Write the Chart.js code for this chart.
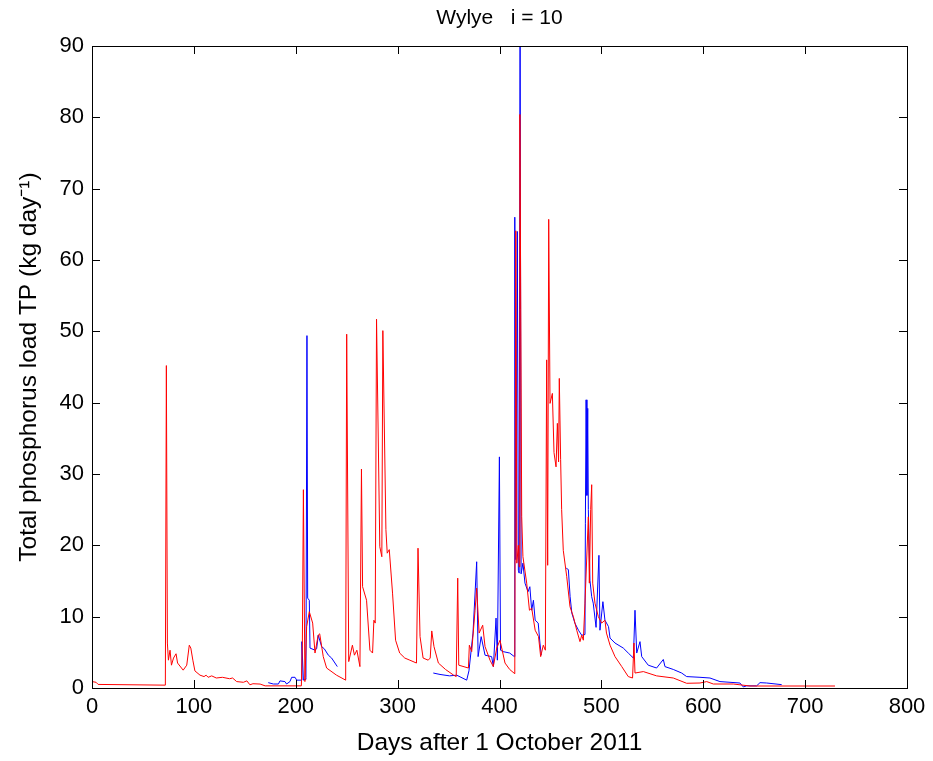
<!DOCTYPE html>
<html>
<head>
<meta charset="utf-8">
<script src="https://cdn.jsdelivr.net/npm/chart.js@4"></script>
<style>
  body { margin: 0; background: #fff; }
  canvas { display: block; }
</style>
</head>
<body>
<canvas id="tpChart" width="933" height="761"></canvas>
<script>
// modelled load (red), days after 1 Oct 2011
const redDays = [0, 4, 6, 72, 73, 74, 75, 76.6, 78, 80, 82.5, 84, 89.5, 93, 95.5, 97, 99, 101, 106, 110,
  112, 114, 117.5, 122, 128, 135, 138, 142, 148.6, 152, 155, 158, 165, 170, 205.5, 206.5, 207.5, 209, 210.7, 213.3,
  216.6, 218.9, 222, 223.5, 227, 230.3, 240, 249, 250, 252, 255.6, 257.6, 260, 263, 264.5, 265.6, 269.5, 272.8, 275.4, 276.7,
  278, 279.3, 282.5, 284.5, 285.5, 288.5, 289.8, 291.8, 295, 298, 302, 307, 312, 318.5, 320, 322, 325, 330, 332, 333.5,
  335.7, 340, 347, 355, 357.5, 359, 360, 369.5, 370.4, 372.7, 376, 377.6, 380, 383.5, 385.8, 390.7, 393.9, 397.3, 400.5, 405.4,
  410, 415, 416, 417, 418.5, 419.3, 420, 421.8, 423, 426.7, 429.4, 431.6, 435, 438.3, 440.4, 443, 445, 446.3, 447.3, 448.3,
  449.6, 451.9, 453.5, 455.5, 456.8, 458, 458.7, 460, 461, 462.6, 466, 469.2, 472.5, 475.8, 479, 480.7, 482.3, 483.9, 487.2, 488.2,
  489.5, 490.5, 491.5, 493.7, 497, 500.3, 503.5, 505, 508.5, 513.4, 520, 526.4, 530.6, 532, 533, 541.2, 554.2, 570.6, 583.7, 596.8,
  603.4, 609.9, 629.5, 645.9, 729.3];
const redLoad = [0.9, 0.8, 0.5, 0.4, 45.2, 6.3, 3.9, 5.3, 3.2, 4.2, 4.8, 3.5, 2.5, 3.2, 6.0, 5.6, 3.9, 2.4, 1.8, 1.6,
  1.8, 1.5, 1.7, 1.4, 1.5, 1.3, 1.4, 0.9, 0.8, 1.0, 0.45, 0.6, 0.55, 0.3, 0.3, 6.3, 27.8, 0.9, 8.6, 10.7,
  9.1, 4.9, 7.4, 7.6, 4.4, 2.8, 1.8, 1.1, 49.6, 3.7, 6.0, 4.6, 5.3, 3.0, 30.7, 14.2, 12.3, 5.3, 4.9, 9.5,
  9.1, 51.7, 19.8, 18.4, 50.1, 22.2, 18.9, 19.4, 13.3, 6.7, 4.9, 4.2, 3.9, 3.5, 19.6, 7.2, 4.2, 3.9, 4.2, 8.0,
  5.8, 3.5, 2.6, 1.8, 1.6, 15.4, 3.2, 2.8, 6.0, 5.1, 10.9, 14.0, 7.7, 8.8, 5.8, 3.9, 3.0, 5.6, 6.7, 3.5,
  2.6, 2.0, 64.1, 17.5, 20, 17, 80.4, 24, 18.4, 14.7, 10.9, 11.2, 8.1, 7.2, 4.4, 6.0, 5.3, 46.0, 17.2, 65.7,
  39.9, 41.3, 33, 31, 37.1, 31.7, 43.4, 32, 25, 19.3, 15.6, 11.4, 10, 8.1, 6.5, 7.4, 6.7, 11.9, 24, 14.7,
  25, 28.5, 14.7, 11.9, 10, 9.1, 9.5, 7.7, 6.0, 4.4, 3.0, 1.6, 1.4, 6.3, 2.1, 2.3, 1.7, 1.4, 0.66, 0.7,
  0.9, 0.56, 0.56, 0.28, 0.28];

// observed load (blue), null = no data
const blueDays = [173, 178, 183, 184.5, 189.4, 191, 194.3, 196, 199.3, 200.9, 204.2, 205.5, 206, 207.5, 209.1, 210, 211, 211.7, 213.3, 214,
  218.9, 220.5, 222.1, 225.4, 228, 232, 235.2, 240.8, 288, 335, 341.6, 351, 358, 367.8, 370, 374, 377.6, 379, 382, 385.8,
  392.3, 394, 396.6, 397.9, 399.9, 401, 403.5, 410, 414.6, 415, 416, 417.5, 418.5, 419.3, 420.2, 421.2, 423, 425, 428, 429.8,
  431.6, 433.3, 435, 438, 439.7, 441, 453, 465.5, 467.6, 469.3, 471, 474, 477.5, 480.7, 483.9, 484.3, 485, 485.8, 486.6, 487.2,
  488.8, 490.5, 492, 494.8, 497.6, 498.6, 501.5, 503.5, 507, 508.5, 513.4, 521.5, 526.4, 531.4, 533, 534.7, 537.9, 539.6, 546, 554.2,
  560.8, 562.4, 570.6, 578.8, 583.7, 596.8, 606.6, 616.4, 636, 639.3, 642.6, 652.4, 655.7, 662.3, 677];
const blueLoad = [0.75, 0.56, 0.56, 1.0, 0.9, 0.56, 0.9, 1.5, 1.5, 1.1, 1.1, 1.1, 6.5, 1.1, 1.2, 1.5, 49.4, 12.6, 12.3, 5.6,
  5.3, 5.5, 7.4, 5.8, 5.5, 4.6, 4.2, 3.0, null, 2.1, 1.9, 1.7, 1.8, 1.1, 2.4, 7.7, 17.7, 4.4, 7.2, 4.6,
  4.4, 3.0, 9.8, 3.9, 32.4, 5.3, 5.1, 4.9, 4.4, 66, 18, 64, 16.5, 16.1, 95, 16, 17.5, 14.7, 13.5, 14.2,
  10.9, 12.3, 9.5, 9.1, 6.3, 4.6, null, 16.8, 16.6, 12.8, 10.5, 9.1, 8.1, 7.4, 7.5, 23.1, 40.4, 27, 39.2, 25,
  15.1, 12.8, 11.9, 8.5, 18.6, 8.1, 12.1, 9.5, 8.6, 7.0, 6.3, 5.6, 4.9, 4.2, 10.9, 4.9, 6.5, 4.4, 3.2, 2.8,
  4.0, 3.0, 2.6, 2.1, 1.6, 1.5, 1.4, 0.9, 0.7, 0.15, 0.3, 0.3, 0.75, 0.7, 0.47];

const xTicks = [0, 100, 200, 300, 400, 500, 600, 700, 800];
const yTicks = [0, 10, 20, 30, 40, 50, 60, 70, 80, 90];

function toPoints(days, vals) {
  return days.map((d, i) => ({ x: d, y: vals[i] }));
}

// box round the plot with inward ticks on all four sides
const boxTicks = {
  id: 'boxTicks',
  afterDraw(chart) {
    const { ctx, chartArea: a, scales } = chart;
    const len = 8;
    ctx.save();
    ctx.strokeStyle = '#000';
    ctx.lineWidth = 1;
    ctx.strokeRect(Math.round(a.left) + 0.5, Math.round(a.top) + 0.5,
      Math.round(a.right - a.left), Math.round(a.bottom - a.top));
    ctx.beginPath();
    xTicks.forEach(v => {
      const px = Math.round(scales.x.getPixelForValue(v)) + 0.5;
      ctx.moveTo(px, a.bottom); ctx.lineTo(px, a.bottom - len);
      ctx.moveTo(px, a.top); ctx.lineTo(px, a.top + len);
    });
    yTicks.forEach(v => {
      const py = Math.round(scales.y.getPixelForValue(v)) + 0.5;
      ctx.moveTo(a.left, py); ctx.lineTo(a.left + len, py);
      ctx.moveTo(a.right, py); ctx.lineTo(a.right - len, py);
    });
    ctx.stroke();
    ctx.restore();
  }
};

Chart.defaults.font.family = '"Liberation Sans", Arial, sans-serif';
Chart.defaults.font.size = 22;
Chart.defaults.color = '#000';

new Chart(document.getElementById('tpChart'), {
  type: 'line',
  data: {
    datasets: [
      {
        label: 'Modelled',
        data: toPoints(redDays, redLoad),
        borderColor: '#ff0000',
        borderWidth: 1,
        pointRadius: 0,
        tension: 0
      },
      {
        label: 'Observed',
        data: toPoints(blueDays, blueLoad),
        borderColor: '#0000ff',
        borderWidth: 1,
        pointRadius: 0,
        tension: 0,
        spanGaps: false
      }
    ]
  },
  options: {
    responsive: false,
    animation: false,
    layout: { padding: { left: 0, right: 26, top: 0, bottom: 0 } },
    plugins: {
      legend: { display: false },
      tooltip: { enabled: false },
      title: {
        display: true,
        text: 'Wylye   i = 10',
        fullSize: false,
        font: { size: 21, weight: 'normal' },
        padding: { top: 5.4, bottom: 15.4 }
      }
    },
    scales: {
      x: {
        type: 'linear',
        min: 0,
        max: 800,
        afterBuildTicks: s => { s.ticks = xTicks.map(v => ({ value: v })); },
        afterFit: s => { s.height = 73; },
        grid: { display: false, drawTicks: false },
        border: { display: false },
        ticks: { padding: 6, maxRotation: 0 },
        title: { display: true, text: 'Days after 1 October 2011', font: { size: 24.5 }, padding: { top: 1, bottom: 3.3 } }
      },
      y: {
        type: 'linear',
        min: 0,
        max: 90,
        afterBuildTicks: s => { s.ticks = yTicks.map(v => ({ value: v })); },
        afterFit: s => { s.width = 92; },
        grid: { display: false, drawTicks: false },
        border: { display: false },
        ticks: { padding: 8 },
        title: { display: true, text: 'Total phosphorus load TP (kg day\u207B\u00B9)', font: { size: 24.5 }, padding: { top: 15, bottom: 0 } }
      }
    }
  },
  plugins: [boxTicks]
});
</script>
</body>
</html>
